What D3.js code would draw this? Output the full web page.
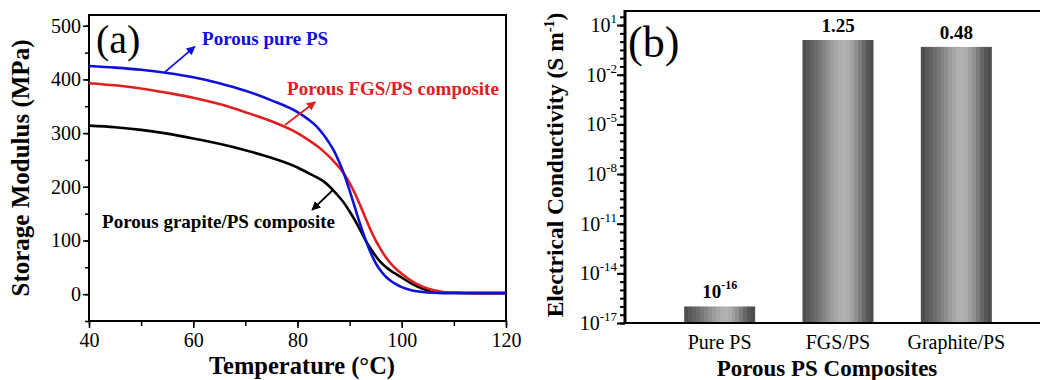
<!DOCTYPE html>
<html>
<head>
<meta charset="utf-8">
<script src="https://cdn.jsdelivr.net/npm/d3@7"></script>
<style>
  body { margin: 0; background: #fff; }
  svg { display: block; }
  text { font-family: "Liberation Serif", "Times New Roman", serif; }
</style>
</head>
<body>
<svg id="chart" width="1040" height="380"></svg>
<script>
// panel (a): storage modulus vs temperature
const temps = [40, 45, 50, 55, 60, 65, 70, 75, 80, 82, 84, 85, 86, 87, 88, 89, 90, 91, 92, 93, 94, 95, 96, 97, 98, 99, 100, 102, 104, 106, 108, 110, 115, 120];
const purePS = [425, 422, 418, 412, 404, 393, 379, 361, 339, 326, 309, 297, 283, 267, 246, 222, 193, 162, 131, 103, 78, 58, 43, 32, 24, 18, 13, 7, 4, 2.5, 2, 2, 2, 2];
const fgsPS = [393, 389, 383, 375, 366, 354, 339, 322, 300, 288, 274, 266, 257, 247, 236, 223, 207, 188, 166, 143, 120, 100, 83, 68, 56, 46, 38, 24, 14, 7.5, 4, 2.5, 2, 2];
const graphitePS = [314, 311, 306, 299, 290, 280, 268, 254, 236, 226, 216, 210, 202, 192, 181, 169, 154, 138, 120, 101, 85, 71, 59, 50, 43, 37, 31, 19, 10, 5, 3, 2.5, 2, 2];
const xTicksA = [40, 60, 80, 100, 120];
const yTicksA = [0, 100, 200, 300, 400, 500];

// labels on the curves: [text, colour, label T, label value, arrow from T, v, arrow to T, v]
const curveNotes = [
  ['Porous pure PS', '#1010d8', 61.7, 464, 54.6, 414, 60.3, 461],
  ['Porous FGS/PS composite', '#e02020', 78.0, 371, 77.6, 315, 83.4, 358],
  ['Porous grapite/PS composite', '#000', 42.5, 123, 86.8, 194, 82.8, 157]
];

// panel (b): conductivity bars
const composites = ['Pure PS', 'FGS/PS', 'Graphite/PS'];
const conductivity = [1e-16, 1.25, 0.48];
const barLabels = [['10', '-16'], ['1.25', ''], ['0.48', '']];
const yExpB = [1, -2, -5, -8, -11, -14, -17];

const svg = d3.select('#chart');

// ---------- panel (a) ----------
const xA = d3.scaleLinear().domain([40, 120]).range([89, 506]);
const yA = d3.scaleLinear().domain([-50, 520]).range([321, 15]);

svg.append('g')
  .attr('transform', 'translate(0,321)')
  .call(d3.axisBottom(xA).tickValues(d3.range(40, 121, 10)).tickSize(5).tickFormat(''))
  .call(g => g.selectAll('.tick line').attr('stroke-width', 1.5))
  .call(g => g.select('.domain').remove());
svg.append('g')
  .attr('transform', 'translate(0,321)')
  .call(d3.axisBottom(xA).tickValues(xTicksA).tickSize(7).tickPadding(5))
  .call(g => g.select('.domain').remove())
  .call(g => g.selectAll('.tick line').attr('stroke-width', 1.5))
  .call(g => g.selectAll('.tick text').attr('font-size', 20).attr('font-family', '"Liberation Serif", serif'));

svg.append('g')
  .attr('transform', 'translate(89,0)')
  .call(d3.axisLeft(yA).tickValues(d3.range(-50, 501, 50)).tickSize(4).tickFormat(''))
  .call(g => g.selectAll('.tick line').attr('stroke-width', 1.5))
  .call(g => g.select('.domain').remove());
svg.append('g')
  .attr('transform', 'translate(89,0)')
  .call(d3.axisLeft(yA).tickValues(yTicksA).tickSize(6).tickPadding(2))
  .call(g => g.select('.domain').remove())
  .call(g => g.selectAll('.tick line').attr('stroke-width', 1.5))
  .call(g => g.selectAll('.tick text').attr('font-size', 20).attr('font-family', '"Liberation Serif", serif'));

svg.append('rect')
  .attr('x', xA(40)).attr('y', yA(520))
  .attr('width', xA(120) - xA(40)).attr('height', yA(-50) - yA(520))
  .attr('fill', 'none').attr('stroke', '#000').attr('stroke-width', 2);

const line = d3.line()
  .x((d, i) => xA(temps[i]))
  .y(d => yA(d))
  .curve(d3.curveMonotoneX);

[[graphitePS, '#000'], [fgsPS, '#e02020'], [purePS, '#1010d8']].forEach(([vals, col]) => {
  svg.append('path')
    .datum(vals)
    .attr('fill', 'none')
    .attr('stroke', col)
    .attr('stroke-width', 2.6)
    .attr('d', line);
});

const defs = svg.append('defs');
curveNotes.forEach((n, i) => {
  defs.append('marker')
    .attr('id', 'arr' + i)
    .attr('viewBox', '0 0 10 10')
    .attr('refX', 9).attr('refY', 5)
    .attr('markerWidth', 5).attr('markerHeight', 5)
    .attr('orient', 'auto')
    .append('path').attr('d', 'M0,0 L10,5 L0,10 z').attr('fill', n[1]);
  svg.append('line')
    .attr('x1', xA(n[4])).attr('y1', yA(n[5]))
    .attr('x2', xA(n[6])).attr('y2', yA(n[7]))
    .attr('stroke', n[1]).attr('stroke-width', 1.8)
    .attr('marker-end', `url(#arr${i})`);
  svg.append('text')
    .attr('x', xA(n[2])).attr('y', yA(n[3]))
    .attr('font-size', 19).attr('font-weight', 'bold')
    .attr('fill', n[1])
    .text(n[0]);
});

svg.append('text')
  .attr('x', 96).attr('y', 53)
  .attr('font-size', 40)
  .text('(a)');

svg.append('text')
  .attr('x', 302).attr('y', 374)
  .attr('text-anchor', 'middle')
  .attr('font-size', 24.5).attr('font-weight', 'bold')
  .text('Temperature (°C)');

svg.append('text')
  .attr('transform', 'translate(29,168) rotate(-90)')
  .attr('text-anchor', 'middle')
  .attr('font-size', 25).attr('font-weight', 'bold')
  .text('Storage Modulus (MPa)');

// ---------- panel (b) ----------
const xB = d3.scaleBand().domain(composites).range([625, 1051]).paddingInner(0.4).paddingOuter(0.5);
const yB = d3.scaleLog().domain([1e-17, Math.pow(10, 1.85)]).range([323, 11]);

// stepped grey stripes across each bar
const stripes = [78, 88, 98, 108, 120, 132, 144, 156, 166, 174, 178, 172, 160, 144, 124, 104, 86, 78];
const grad = defs.append('linearGradient').attr('id', 'barGrad').attr('x1', '0%').attr('x2', '100%');
stripes.forEach((g, i) => {
  const c = d3.rgb(g, g, g).toString();
  grad.append('stop').attr('offset', i / stripes.length).attr('stop-color', c);
  grad.append('stop').attr('offset', (i + 1) / stripes.length).attr('stop-color', c);
});

svg.selectAll('.bar')
  .data(conductivity)
  .join('rect')
  .attr('class', 'bar')
  .attr('x', (d, i) => xB(composites[i]))
  .attr('y', d => yB(d))
  .attr('width', xB.bandwidth())
  .attr('height', d => yB(1e-17) - yB(d))
  .attr('fill', 'url(#barGrad)');

conductivity.forEach((d, i) => {
  const t = svg.append('text')
    .attr('x', xB(composites[i]) + xB.bandwidth() / 2)
    .attr('y', yB(d) - 8)
    .attr('text-anchor', 'middle')
    .attr('font-size', 19).attr('font-weight', 'bold');
  t.append('tspan').text(barLabels[i][0]);
  if (barLabels[i][1]) {
    t.append('tspan').attr('dy', -9).attr('font-size', 12).text(barLabels[i][1]);
  }
});

// log ticks: minor every half decade, major every third decade
const minorB = d3.range(-17, 1.51, 0.5).map(e => Math.pow(10, e));
svg.append('g')
  .attr('transform', 'translate(625,0)')
  .call(d3.axisLeft(yB).tickValues(minorB).tickSize(5).tickFormat(''))
  .call(g => g.selectAll('.tick line').attr('stroke-width', 2))
  .call(g => g.select('.domain').remove());
svg.append('g')
  .attr('transform', 'translate(625,0)')
  .call(d3.axisLeft(yB).tickValues(yExpB.map(e => Math.pow(10, e))).tickSize(8).tickFormat(''))
  .call(g => g.selectAll('.tick line').attr('stroke-width', 2))
  .call(g => g.select('.domain').remove());

yExpB.forEach(e => {
  const t = svg.append('text')
    .attr('x', 617).attr('y', yB(Math.pow(10, e)) + 7)
    .attr('text-anchor', 'end')
    .attr('font-size', 20);
  t.append('tspan').text('10');
  t.append('tspan').attr('dy', -9).attr('font-size', 13).text(e);
});

svg.append('g')
  .attr('transform', 'translate(0,323)')
  .call(d3.axisBottom(xB).tickSize(0).tickPadding(12))
  .call(g => g.select('.domain').remove())
  .call(g => g.selectAll('.tick text').attr('font-size', 20).attr('font-family', '"Liberation Serif", serif'));

// frame of panel (b), right side runs off the picture
svg.append('line').attr('x1', 625).attr('x2', 1051).attr('y1', 11).attr('y2', 11)
  .attr('stroke', '#000').attr('stroke-width', 2);
svg.append('line').attr('x1', 625).attr('x2', 1051).attr('y1', 323).attr('y2', 323)
  .attr('stroke', '#000').attr('stroke-width', 2);
svg.append('line').attr('x1', 625).attr('x2', 625).attr('y1', 10).attr('y2', 324)
  .attr('stroke', '#000').attr('stroke-width', 3);

svg.append('text')
  .attr('x', 628).attr('y', 57)
  .attr('font-size', 44)
  .text('(b)');

svg.append('text')
  .attr('x', 827).attr('y', 376)
  .attr('text-anchor', 'middle')
  .attr('font-size', 23).attr('font-weight', 'bold')
  .text('Porous PS Composites');

const yt = svg.append('text')
  .attr('transform', 'translate(563,165) rotate(-90)')
  .attr('text-anchor', 'middle')
  .attr('font-size', 23.5).attr('font-weight', 'bold');
yt.append('tspan').text('Electrical Conductivity (S m');
yt.append('tspan').attr('dy', -9).attr('font-size', 14).text('-1');
yt.append('tspan').attr('dy', 9).text(')');
</script>
</body>
</html>
